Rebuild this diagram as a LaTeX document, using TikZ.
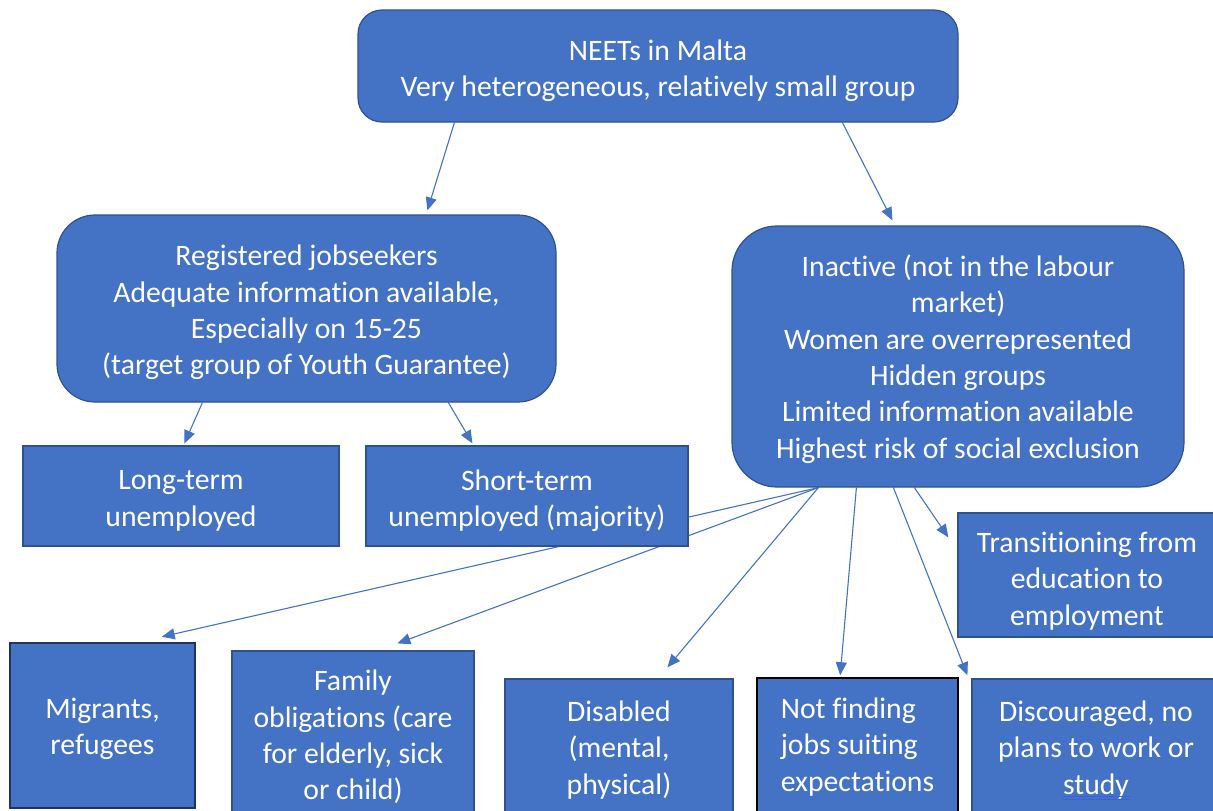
\documentclass[tikz,border=0pt]{standalone}
\usepackage{fontspec}
\setmainfont{Carlito}[Ligatures=NoCommon]
\usetikzlibrary{arrows.meta,calc}
\pgfdeclarelayer{bg}
\pgfsetlayers{bg,main}
\definecolor{boxfill}{HTML}{4472C4}
\definecolor{boxline}{HTML}{2F528F}
\definecolor{darkline}{HTML}{1F3458}
\definecolor{arrowc}{HTML}{4472C4}
\definecolor{spellc}{HTML}{3B5FE0}
\begin{document}
\begin{tikzpicture}[x=1pt,y=-1pt,
  box/.style={fill=boxfill,draw=boxline,line width=1.2pt,inner sep=0pt},
  rbox/.style={box,rounded corners=#1},
  lbl/.style={text=white,align=center,inner sep=0pt,font=\fontsize{29.7}{36.3}\selectfont},
  conn/.style={draw=arrowc,line width=1.1pt,-{Triangle[length=13pt,width=11pt]}}]
\useasboundingbox (0,0) rectangle (1213,811);

% boxes
\node[rbox=24pt, minimum width=600pt, minimum height=112pt] (top) at (658,66) {};
\node[rbox=38pt, minimum width=499pt, minimum height=187pt] (reg) at (306.5,308.5) {};
\node[rbox=45pt, minimum width=452pt, minimum height=261pt] (inact) at (958,356.5) {};
\node[box, minimum width=316pt, minimum height=100pt] (long) at (181,496) {};
\node[box, minimum width=322pt, minimum height=100pt] (short) at (527,496) {};
\node[box, minimum width=258pt, minimum height=124pt] (trans) at (1087,575) {};
\node[box, draw=darkline, line width=2.5pt, minimum width=185pt, minimum height=165pt] (migr) at (102.5,725.5) {};
\node[box, minimum width=242pt, minimum height=168pt] (fam) at (353,735) {};
\node[box, minimum width=228pt, minimum height=140pt] (dis) at (619,749) {};
\node[box, draw=black, line width=1.6pt, minimum width=201pt, minimum height=140pt] (notf) at (857.5,748) {};
\node[box, minimum width=248pt, minimum height=140pt] (disc) at (1096,749) {};

% texts
\node[lbl] (topT) at ($(top.center)+(0,4.5)$) {NEETs in Malta\\Very heterogeneous, relatively small group};
\node[lbl] (regT) at ($(reg.center)+(0,4)$) {Registered jobseekers\\Adequate information available,\\Especially on 15-25\\(target group of Youth Guarantee)};
\node[lbl] (inactT) at ($(inact.center)+(0,2.5)$) {Inactive (not in the labour\\market)\\Women are overrepresented\\Hidden groups\\Limited information available\\Highest risk of social exclusion};
\node[lbl] (longT) at ($(long.center)+(0,5)$) {Long-term\\unemployed};
\node[lbl] (shortT) at ($(short.center)+(0,5)$) {Short-term\\unemployed (majority)};
\node[lbl] (transT) at ($(trans.center)+(0,6)$) {Transitioning from\\education to\\employment};
\node[lbl] (migrT) at ($(migr.center)+(0,3)$) {Migrants,\\refugees};
\node[lbl] (famT) at ($(fam.center)+(0,2)$) {Family\\obligations (care\\for elderly, sick\\or child)};
\node[lbl] (disT) at ($(dis.center)+(0,1)$) {Disabled\\(mental,\\physical)};
\node[lbl, align=left] (notfT) at ($(notf.center)+(0,-1)$) {Not finding\\jobs suiting\\expectations};
\node[lbl] (discT) at ($(disc.center)+(0,1)$) {Discouraged, no\\plans to work or\\study};

\draw[spellc, line width=0.7pt] ($(disc.center)+(-33,47)$) -- ++(67,0);
\draw[spellc, line width=0.7pt] ($(disc.center)+(-33,50)$) -- ++(67,0);

\begin{pgfonlayer}{bg}
\draw[conn] ($(top.south west)+(97,0)$) -- ($(reg.north west)+(371,-4)$);
\draw[conn] ($(top.south west)+(485,0)$) -- ($(inact.north west)+(161,-5)$);
\draw[conn] ($(reg.south west)+(146,0)$) -- ($(long.north west)+(162,-2)$);
\draw[conn] ($(reg.south west)+(392,0)$) -- ($(short.north west)+(107,-2)$);
\draw[conn] ($(inact.south west)+(87,0)$) -- ($(migr.north west)+(153,-5)$);
\draw[conn] ($(inact.south west)+(87,0)$) -- ($(fam.north west)+(166,-7)$);
\draw[conn] ($(inact.south west)+(87,0)$) -- ($(dis.north west)+(163,-11)$);
\draw[conn] ($(inact.south west)+(125,0)$) -- ($(notf.north west)+(84,-2)$);
\draw[conn] ($(inact.south west)+(162,0)$) -- ($(disc.north west)+(-4,-3)$);
\draw[conn] ($(inact.south west)+(183,0)$) -- ($(trans.north west)+(-9,25)$);
\end{pgfonlayer}
\end{tikzpicture}
\end{document}
